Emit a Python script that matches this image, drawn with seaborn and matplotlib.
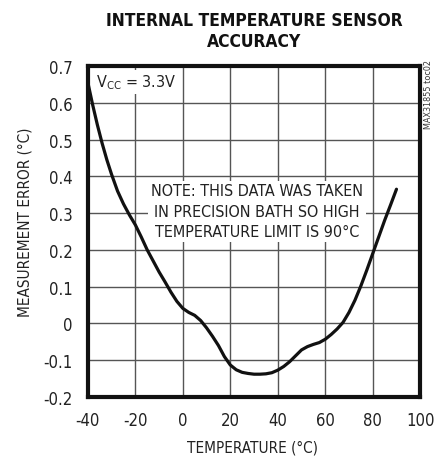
import matplotlib
matplotlib.use("Agg")
import matplotlib.pyplot as plt
import seaborn as sns
import pandas as pd

# values
temperature = [-40, -38, -36, -34, -32, -30, -27.5, -25, -22.5, -20, -17.5, -15, -12.5,
               -10, -7.5, -5, -2.5, 0, 2.5, 5, 7.5, 10, 12.5, 15, 17.5, 20, 22.5, 25,
               27.5, 30, 32.5, 35, 37.5, 40, 42.5, 45, 47.5, 50, 52.5, 55, 57.5, 60,
               62.5, 65, 67.5, 70, 72.5, 75, 77.5, 80, 82.5, 85, 87.5, 90]
error = [0.655, 0.595, 0.54, 0.49, 0.445, 0.405, 0.36, 0.325, 0.295, 0.268, 0.235, 0.20,
         0.17, 0.14, 0.113, 0.085, 0.06, 0.041, 0.03, 0.022, 0.008, -0.012, -0.035,
         -0.06, -0.09, -0.113, -0.126, -0.133, -0.136, -0.138, -0.138, -0.137, -0.134,
         -0.127, -0.117, -0.104, -0.088, -0.072, -0.063, -0.057, -0.052, -0.043, -0.03,
         -0.015, 0.003, 0.03, 0.063, 0.102, 0.145, 0.19, 0.235, 0.28, 0.322, 0.365]
x_ticks = [-40, -20, 0, 20, 40, 60, 80, 100]
y_ticks = [-0.2, -0.1, 0, 0.1, 0.2, 0.3, 0.4, 0.5, 0.6, 0.7]
y_labels = ["-0.2", "-0.1", "0", "0.1", "0.2", "0.3", "0.4", "0.5", "0.6", "0.7"]

df = pd.DataFrame({"temp": temperature, "err": error})

sns.set_theme(style="white")
plt.rcParams["font.family"] = ["DejaVu Sans"]
plt.rcParams["font.stretch"] = "condensed"
plt.rcParams["axes.unicode_minus"] = False

fig = plt.figure(figsize=(4.35, 4.6), dpi=100)
ax = fig.add_axes([0.202, 0.1348, 0.764, 0.7195])

sns.lineplot(data=df, x="temp", y="err", color="#111111", linewidth=2.3, ax=ax, zorder=4)

ax.set_xlim(-40, 100)
ax.set_ylim(-0.2, 0.7)
ax.set_xticks(x_ticks)
ax.set_xticklabels([str(t) for t in x_ticks])
ax.set_yticks(y_ticks)
ax.set_yticklabels(y_labels)
ax.tick_params(axis="both", length=0, labelsize=12, colors="#222222")
ax.tick_params(axis="x", pad=10)
ax.tick_params(axis="y", pad=11)
ax.grid(True, color="#555555", linewidth=1)
for s in ax.spines.values():
    s.set_visible(True)
    s.set_color("#111111")
    s.set_linewidth(3)

ax.set_xlabel("TEMPERATURE (°C)", fontsize=11, color="#222222")
ax.set_ylabel("MEASUREMENT ERROR (°C)", fontsize=11, color="#222222")
ax.xaxis.set_label_coords(0.494, -0.128)
ax.yaxis.set_label_coords(-0.166, 0.532)

fig.suptitle("INTERNAL TEMPERATURE SENSOR\nACCURACY", fontsize=12.5, fontweight="bold",
             x=0.584, y=0.975, va="top", linespacing=1.28, color="#111111")

ax.text(-36.5, 0.683, r"V$_{\mathsf{CC}}$ = 3.3V", fontsize=11.5, va="top", ha="left",
        zorder=5, color="#222222", bbox=dict(facecolor="white", edgecolor="none", pad=2))
ax.text(31.3, 0.305, "NOTE: THIS DATA WAS TAKEN\nIN PRECISION BATH SO HIGH\nTEMPERATURE LIMIT IS 90°C",
        fontsize=11.5, ha="center", va="center", linespacing=1.45, zorder=3, color="#222222",
        bbox=dict(facecolor="white", edgecolor="none", pad=2))

fig.text(0.985, 0.87, "MAX31855 toc02", fontsize=6.5, rotation=90, ha="center", va="top",
         color="#333333")

fig.savefig("out.png", dpi=100)
